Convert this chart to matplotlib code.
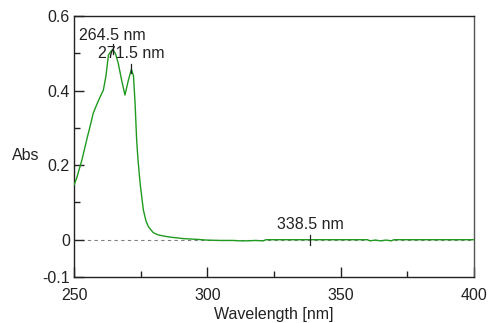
import matplotlib
matplotlib.use("Agg")
import matplotlib.pyplot as plt
import matplotlib.ticker as mticker

plt.rcParams["font.family"] = ["Liberation Sans", "DejaVu Sans"]

# ── Spectrum ─────────────────────────────────────────────────────────────────
wavelength = [250.0, 251.0, 252.0, 253.0, 254.0, 255.0, 256.0, 257.2, 258.5, 259.8,
              261.0, 262.0, 262.9, 263.8, 264.5, 265.5, 266.6, 267.8, 269.1, 270.4,
              271.5, 272.3, 272.9, 273.5, 274.0, 274.8, 276.0, 277.0, 277.9, 279.7,
              281.5, 283.5, 286.0, 288.5, 291.0, 293.5, 296.0, 299.8, 305.0, 310.0,
              312.0, 315.0, 318.0, 321.0, 322.0, 326.0, 330.0, 335.0, 340.0, 345.0,
              350.0, 355.0, 360.0, 361.0, 363.0, 365.0, 367.0, 369.0, 370.0, 375.0,
              380.0, 390.0, 400.0]
absorbance = [0.147, 0.165, 0.190, 0.215, 0.245, 0.275, 0.303, 0.339, 0.362, 0.383,
              0.401, 0.440, 0.495, 0.505, 0.510, 0.500, 0.473, 0.430, 0.388, 0.428,
              0.457, 0.440, 0.366, 0.267, 0.214, 0.151, 0.080, 0.050, 0.035, 0.019,
              0.013, 0.010, 0.007, 0.005, 0.003, 0.002, 0.001, -0.001, -0.002, -0.002,
              -0.003, -0.003, -0.002, -0.003, 0.000, 0.000, 0.000, 0.000, 0.000, 0.000,
              0.000, 0.000, 0.000, -0.003, -0.001, -0.003, -0.001, -0.003, 0.000, 0.000,
              0.000, 0.000, 0.000]

peak_wl = [264.5, 271.5, 338.5]
peak_abs = [0.512, 0.460, 0.000]
peak_text = ["264.5 nm", "271.5 nm", "338.5 nm"]
label_abs = [0.549, 0.500, 0.042]

LINE_C = "#1f9a1f"
TXT = "#222222"
FS = 11.5

fig = plt.figure(figsize=(4.88, 3.23), dpi=100)
ax = fig.add_axes([74 / 488, 1 - 277 / 323, 400 / 488, 261 / 323])

ax.axhline(0, color="#808080", linewidth=0.8, linestyle=(0, (3, 3)), zorder=1)
ax.plot(wavelength, absorbance, color=LINE_C, linewidth=1.0, zorder=3)

# peak markers and labels
for wl, a, txt, ya in zip(peak_wl, peak_abs, peak_text, label_abs):
    ax.plot([wl, wl], [a - 0.014, a + 0.012], color=TXT, linewidth=0.9, zorder=4)
    ax.text(wl, ya, txt, ha="center", va="center", fontsize=FS, color=TXT, zorder=5)

ax.set_xlim(250, 400)
ax.set_ylim(-0.1, 0.6)
ax.xaxis.set_major_locator(mticker.FixedLocator([250, 300, 350, 400]))
ax.xaxis.set_minor_locator(mticker.FixedLocator([275, 325, 375]))
ax.yaxis.set_major_locator(mticker.FixedLocator([-0.1, 0, 0.2, 0.4, 0.6]))
ax.yaxis.set_minor_locator(mticker.FixedLocator([0.1, 0.3, 0.5]))
ax.yaxis.set_major_formatter(mticker.FuncFormatter(lambda v, _: "0" if abs(v) < 1e-9 else f"{v:g}"))
ax.tick_params(which="major", direction="in", length=7, width=1, labelsize=FS,
               colors=TXT)
ax.tick_params(which="minor", direction="in", length=4.3, width=1, colors=TXT)
ax.tick_params(axis="x", which="major", pad=8)
ax.tick_params(axis="y", which="major", pad=3)

for name, sp in ax.spines.items():
    sp.set_color(TXT)
    sp.set_linewidth(1.0)
ax.spines["right"].set_color("#555555")

fig.text(12 / 488, 1 - 155 / 323, "Abs", ha="left", va="center", fontsize=FS, color=TXT)
fig.text(274 / 488, 1 - 315 / 323, "Wavelength [nm]", ha="center", va="center",
         fontsize=FS, color=TXT)

fig.savefig("out.png", dpi=100, facecolor="white")
